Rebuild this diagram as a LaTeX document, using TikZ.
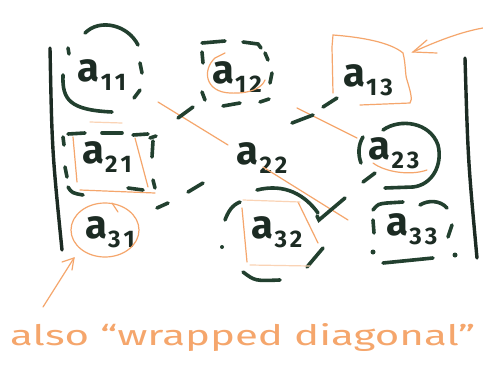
\documentclass[tikz,border=0pt]{standalone}
\usepackage{fontspec}
\setsansfont{Fira Sans}
\definecolor{ink}{HTML}{1C2B23}
\definecolor{dkg}{HTML}{22402F}
\definecolor{org}{HTML}{F5A66C}
\definecolor{lorg}{HTML}{FAD3B5}
\newcommand{\entr}[2]{{\fontsize{40}{40}\selectfont a}\kern1pt\raisebox{-9pt}{\fontsize{24}{24}\selectfont #1\kern3pt #2}}
\begin{document}
\begin{tikzpicture}[x=1pt,y=-1pt,
  g/.style={draw=dkg,line width=3.6pt,line cap=round},
  o/.style={draw=org,line width=1.2pt,line cap=round},
  lo/.style={draw=lorg,line width=1.2pt,line cap=round},
  bar/.style={draw=ink,line width=3.4pt,line cap=round},
  ent/.style={inner sep=0pt,text=ink,font=\sffamily\bfseries}]
\useasboundingbox[fill=white] (0,0) rectangle (483,367);
% entries
\node[ent] (a11) at (102,75) {\entr{1}{1}};
\node[ent] (a12) at (237,77) {\entr{1}{2}};
\node[ent] (a13) at (368,80) {\entr{1}{3}};
\node[ent] (a21) at (107,157) {\entr{2}{1}};
\node[ent] (a22) at (262,158) {\entr{2}{2}};
\node[ent] (a23) at (394,153) {\entr{2}{3}};
\node[ent] (a31) at (110,232) {\entr{3}{1}};
\node[ent] (a32) at (277,232) {\entr{3}{2}};
\node[ent] (a33) at (412,229) {\entr{3}{3}};
% bars
\draw[bar] (50,48) .. controls (52,150) .. (62,250);
\draw[bar] (465,58) .. controls (468,160) .. (477,258);
% orange diagonals
\coordinate (d1) at (158,102); \coordinate (d2) at (228,145);
\coordinate (d3) at (263,167); \coordinate (d4) at (348,220);
\coordinate (d5) at (297,108); \coordinate (d6) at (357,138);
\draw[o] (d1) -- (d2);
\draw[o] (d3) -- (d4);
\draw[o] (d5) -- (d6);
% green anti-diagonal dashes
\draw[g] (178,118) -- (193,107);
\draw[g] (292,123) -- (313,115);
\draw[g] (323,107) -- (337,98);
\draw[g] (157,208) -- (168,203);
\draw[g] (188,192) -- (203,183);
\draw[g] (317,216) -- (319,220) -- (345,198);
% a11
\draw[g] (85,33) .. controls (100,18) and (128,25) .. (138,45);
\draw[g] (68,48) -- (69,54);
\draw[g] (140,63) -- (142,73);
\draw[g] (140,90) -- (134,98);
\draw[g] (63,75) .. controls (62,100) and (70,110) .. (112,112);
% a12
\draw[g] (202,43) -- (225,41);
\draw[g] (243,42) -- (258,44) -- (261,48);
\draw[g] (202,52) -- (203,63);
\draw[g] (265,53) -- (268,60);
\draw[g] (272,73) -- (270,83);
\draw[g] (202,92) -- (205,100);
\draw[g] (223,106) -- (240,103);
\draw[g] (260,102) -- (269,99);
\draw[o] (225,53) -- (215,58) .. controls (202,70) and (205,92) .. (230,93) .. controls (250,94) and (262,88) .. (265,80);
% a13
\draw[o] (333,93) -- (332,47) -- (333,35) .. controls (360,37) and (390,42) .. (403,53) .. controls (406,65) and (405,75) .. (407,80) .. controls (410,90) and (413,100) .. (410,103) -- (360,105);
\coordinate (t1) at (483,28); \coordinate (t2) at (413,52);
\draw[o] (t1) .. controls (460,32) and (435,42) .. (t2);
\draw[o] (427,40) -- (t2) -- (437,53);
% a21
\draw[g] (68,134) -- (85,133);
\draw[g] (102,133) -- (122,133);
\draw[g] (133,135) -- (148,134);
\draw[g] (150,138) -- (156,136);
\draw[g] (153,141) -- (152,157);
\draw[g] (63,137) -- (64,145);
\draw[g] (65,167) -- (67,177);
\draw[g] (68,187) .. controls (72,193) .. (83,195);
\draw[g] (128,188) -- (143,190);
\draw[g] (153,180) -- (155,188);
\draw[o] (73,137) -- (77,182);
\draw[o] (135,138) -- (148,187);
\draw[lo] (90,122) -- (122,123);
\draw[o] (80,190) -- (155,193);
% a23
\draw[g] (383,130) .. controls (400,118) and (430,122) .. (438,145) .. controls (443,165) and (432,185) .. (413,187) -- (385,188);
\draw[g] (363,137) .. controls (358,145) and (358,155) .. (361,163);
\draw[g] (363,182) -- (375,173);
\draw[o] (373,163) .. controls (385,172) and (410,176) .. (427,170);
% a31
\draw[o] (105,230) ellipse [x radius=34, y radius=27];
\draw[o] (112,203) -- (118,212);
\coordinate (p1) at (43,307); \coordinate (p2) at (74,258);
\draw[o] (p1) -- (p2);
\draw[o] (62,262) -- (p2) -- (72,270);
% a32
\draw[g] (257,190) .. controls (285,183) and (305,195) .. (318,213);
\draw[g] (225,220) .. controls (228,212) and (232,205) .. (240,202);
\fill[dkg] (222,247) circle (2pt);
\draw[g] (323,248) -- (307,267);
\draw[g] (243,272) .. controls (255,281) .. (280,280);
\draw[o] (242,208) -- (247,262);
\draw[o] (298,202) -- (318,243);
\draw[lo] (243,200) -- (300,202);
\draw[lo] (250,265) -- (310,266);
% a33
\draw[g] (373,210) .. controls (378,204) .. (387,203) -- (403,202);
\draw[g] (420,205) .. controls (428,200) and (440,200) .. (447,208);
\draw[g] (373,220) -- (374,233);
\fill[dkg] (373,252) circle (2.5pt);
\draw[g] (452,225) -- (448,237);
\fill[dkg] (455,255) circle (2.5pt);
\draw[g] (383,263) -- (433,258);
% caption
\node[anchor=base west,inner sep=0pt,text=org,font=\sffamily] (cap) at (10,345) {\resizebox{465pt}{22pt}{also “wrapped diagonal”}};
\end{tikzpicture}
\end{document}
